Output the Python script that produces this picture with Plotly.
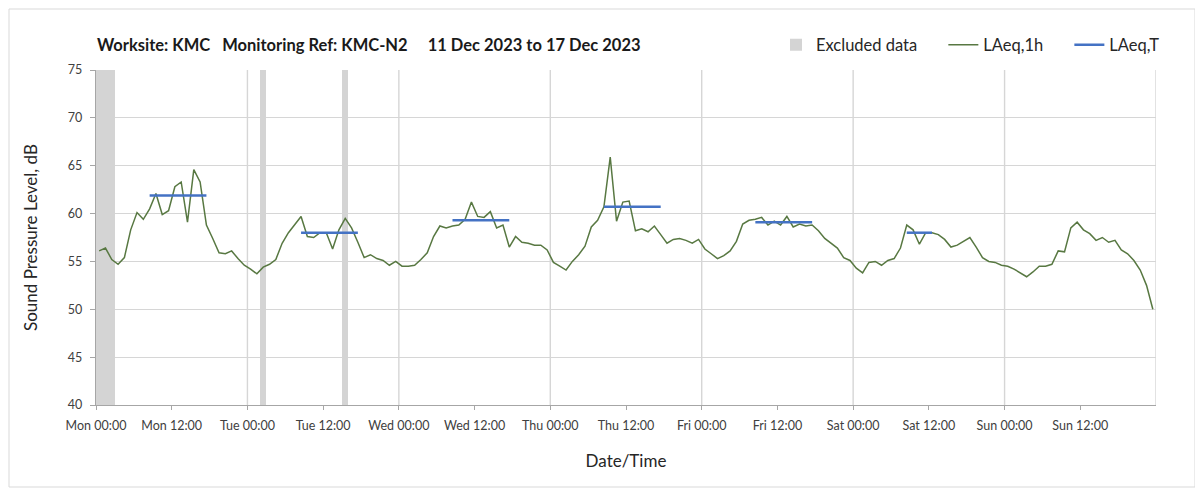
import pandas as pd
import plotly.graph_objects as go

# hourly LAeq,1h values, Mon 11 Dec 2023 00:00 -> Sun 17 Dec 2023 23:00
laeq_1h = [
    56.1, 56.4, 55.2, 54.7, 55.4, 58.3, 60.1, 59.4, 60.5, 62.1, 59.9, 60.3,
    62.8, 63.3, 59.1, 64.6, 63.3, 58.8, 57.4, 55.9, 55.8, 56.1, 55.3, 54.6,
    54.2, 53.7, 54.4, 54.7, 55.2, 56.9, 58.0, 58.9, 59.7, 57.6, 57.5, 58.0,
    58.0, 56.3, 58.3, 59.5, 58.5, 57.0, 55.4, 55.7, 55.3, 55.1, 54.6, 55.0,
    54.5, 54.5, 54.6, 55.2, 55.9, 57.6, 58.7, 58.5, 58.7, 58.8, 59.4, 61.2,
    59.7, 59.6, 60.2, 58.5, 58.8, 56.5, 57.6, 57.0, 56.9, 56.7, 56.7, 56.2,
    54.9, 54.5, 54.1, 55.0, 55.7, 56.6, 58.6, 59.3, 60.7, 65.9, 59.2, 61.2,
    61.3, 58.2, 58.4, 58.1, 58.7, 57.8, 56.9, 57.3, 57.4, 57.2, 56.9, 57.3,
    56.3, 55.8, 55.3, 55.6, 56.1, 57.1, 58.9, 59.3, 59.4, 59.6, 58.8, 59.2,
    58.8, 59.7, 58.6, 58.9, 58.7, 58.8, 58.2, 57.4, 56.9, 56.4, 55.4, 55.1,
    54.3, 53.8, 54.9, 55.0, 54.6, 55.1, 55.3, 56.4, 58.8, 58.3, 56.8, 58.0,
    58.0, 57.8, 57.3, 56.5, 56.7, 57.1, 57.5, 56.5, 55.4, 55.0, 54.9, 54.6,
    54.5, 54.2, 53.8, 53.4, 53.9, 54.5, 54.5, 54.7, 56.1, 56.0, 58.5, 59.1,
    58.3, 57.9, 57.2, 57.5, 57.0, 57.2, 56.2, 55.8, 55.1, 54.1, 52.5, 50.0,
]

# daytime LAeq,T periods (hour index from Mon 00:00, inclusive)
period_start = [8, 32, 56, 80, 104, 128]
period_end = [17, 41, 65, 89, 113, 132]
laeq_t = [61.9, 58.0, 59.3, 60.7, 59.1, 58.0]

# excluded hours (hour index from Mon 00:00)
excluded_hours = [0, 1, 2, 26, 39]

tick_labels = [
    "Mon 00:00", "Mon 12:00", "Tue 00:00", "Tue 12:00", "Wed 00:00",
    "Wed 12:00", "Thu 00:00", "Thu 12:00", "Fri 00:00", "Fri 12:00",
    "Sat 00:00", "Sat 12:00", "Sun 00:00", "Sun 12:00",
]

start = pd.Timestamp("2023-12-11 00:00")
hours = [start + pd.Timedelta(hours=k + 0.5) for k in range(len(laeq_1h))]

t_x, t_y = [], []
for s, e, v in zip(period_start, period_end, laeq_t):
    for k in range(s, e + 1):
        t_x.append(start + pd.Timedelta(hours=k + 0.5))
        t_y.append(v)
    t_x.append(None)
    t_y.append(None)

FONT = "Lato"
W, H = 1195, 486  # page body has an 8px margin
PAD = "\u00a0" * 5

fig = go.Figure()
fig.add_trace(
    go.Bar(
        x=[start + pd.Timedelta(hours=k + 0.5) for k in excluded_hours],
        y=[35] * len(excluded_hours),
        base=40,
        width=3600000,
        marker=dict(color="#d4d4d4", line=dict(width=0)),
        name="Excluded data" + PAD,
        hoverinfo="skip",
    )
)
fig.add_trace(
    go.Scatter(
        x=hours,
        y=laeq_1h,
        mode="lines",
        line=dict(color="#587842", width=1.5),
        name="LAeq,1h" + PAD,
    )
)
fig.add_trace(
    go.Scatter(
        x=t_x,
        y=t_y,
        mode="lines",
        line=dict(color="#4472c4", width=2.5),
        name="LAeq,T",
        connectgaps=False,
    )
)

# day gridlines
for d in range(1, 8):
    fig.add_vline(
        x=start + pd.Timedelta(days=d),
        line=dict(color="#d6d6d6", width=1.4),
        layer="below",
    )

fig.update_layout(
    width=W,
    height=H,
    plot_bgcolor="white",
    paper_bgcolor="white",
    font=dict(family=FONT, color="#262626"),
    margin=dict(l=88, r=47, t=62, b=89),
    bargap=0,
    title=dict(
        text="<b>Worksite: KMC\u00a0\u00a0\u00a0Monitoring Ref: KMC-N2"
        "\u00a0\u00a0\u00a0\u00a0\u00a011 Dec 2023 to 17 Dec 2023</b>",
        x=89 / W,
        xanchor="left",
        y=1 - 37 / H,
        yanchor="middle",
        font=dict(size=16.5, family=FONT, color="#1a1a1a"),
    ),
    legend=dict(
        orientation="h",
        x=(1165 - 96) / 1060,
        xanchor="right",
        y=1 + 25 / 335,
        yanchor="middle",
        font=dict(size=16.5, family=FONT, color="#262626"),
        traceorder="normal",
        itemwidth=30,
    ),
    xaxis=dict(
        range=[start, start + pd.Timedelta(days=7)],
        tickvals=[start + pd.Timedelta(hours=12 * i) for i in range(len(tick_labels))],
        ticktext=tick_labels,
        showgrid=False,
        showline=True,
        linecolor="#a6a6a6",
        linewidth=1.3,
        ticks="outside",
        ticklen=4,
        tickcolor="#a6a6a6",
        ticklabelstandoff=5,
        tickfont=dict(size=12.5, family=FONT, color="#404040"),
        title=dict(text="Date/Time", font=dict(size=17, family=FONT, color="#262626"), standoff=22),
        zeroline=False,
        automargin=False,
    ),
    yaxis=dict(
        range=[40, 75],
        dtick=5,
        showgrid=True,
        gridcolor="#d6d6d6",
        gridwidth=1.4,
        showline=True,
        linecolor="#a6a6a6",
        linewidth=1.3,
        ticks="outside",
        ticklen=5,
        tickcolor="#a6a6a6",
        ticklabelstandoff=5,
        tickfont=dict(size=12.5, family=FONT, color="#404040"),
        title=dict(text="Sound Pressure Level, dB", font=dict(size=17, family=FONT, color="#262626"), standoff=25),
        zeroline=False,
        automargin=False,
    ),
)

# chart border
fig.add_shape(
    type="rect", xref="paper", yref="paper",
    x0=(9 - 96) / 1060, x1=(1195 - 96) / 1060,
    y0=-(487 - 405) / 335, y1=1 + (70 - 9) / 335,
    line=dict(color="#d9d9d9", width=1),
)

fig.write_html("out.html")
